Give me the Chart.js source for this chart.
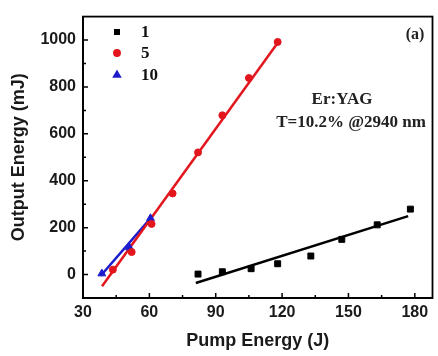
<!DOCTYPE html>
<html>
<head>
<meta charset="utf-8">
<script src="https://cdn.jsdelivr.net/npm/chart.js@4.4.1/dist/chart.umd.min.js"></script>
<style>
html,body{margin:0;padding:0;background:#fff;}
canvas{display:block;}
</style>
</head>
<body>
<canvas id="c" width="438" height="356"></canvas>
<script>
// ---- data ----
const seriesNames = ["1", "5", "10"];
const pump1 = [82, 93, 106, 118, 133, 147, 163, 178];
const out1  = [2, 12, 25, 46, 79, 150, 212, 279];
const fitX1 = [81, 177];
const fitY1 = [-36, 249];

const pump5 = [43.5, 52, 61, 70.5, 82, 93, 105, 118];
const out5  = [21, 96, 216, 346, 521, 679, 838, 992];
const fitX5 = [38.6, 118.3];
const fitY5 = [-50, 992];

const pump10 = [38.5, 51, 60.5];
const out10  = [4, 115, 240];
const fitX10 = [38, 61];
const fitY10 = [-5, 245];

const xTicks = [30, 60, 90, 120, 150, 180];
const yTicks = [0, 200, 400, 600, 800, 1000];
const xMinor = [45, 75, 105, 135, 165];
const yMinor = [100, 300, 500, 700, 900];
const xTitle = "Pump Energy (J)";
const yTitle = "Output Energy (mJ)";
const noteLines = ["Er:YAG", "T=10.2% @2940 nm"];
const panelLabel = "(a)";

const colors = ["#000000", "#e3161e", "#1c1ccc"];
const styles = ["rect", "circle", "triangle"];

function pts(xs, ys){ return xs.map((x,i)=>({x:x, y:ys[i]})); }

const SANS = "'Liberation Sans', Arial, sans-serif";
const SERIF = "'Liberation Serif', 'Times New Roman', serif";

const frameAndTicks = {
  id: 'frameAndTicks',
  afterDraw(chart){
    const ctx = chart.ctx, a = chart.chartArea;
    const xs = chart.scales.x, ys = chart.scales.y;
    ctx.save();
    ctx.strokeStyle = '#000';
    ctx.lineWidth = 1.8;
    ctx.strokeRect(a.left, a.top, a.right - a.left, a.bottom - a.top);
    ctx.lineWidth = 1.5;
    ctx.beginPath();
    xTicks.forEach(v=>{ const p = xs.getPixelForValue(v); ctx.moveTo(p, a.bottom); ctx.lineTo(p, a.bottom-5); });
    xMinor.forEach(v=>{ const p = xs.getPixelForValue(v); ctx.moveTo(p, a.bottom); ctx.lineTo(p, a.bottom-3); });
    yTicks.forEach(v=>{ const p = ys.getPixelForValue(v); ctx.moveTo(a.left, p); ctx.lineTo(a.left+5, p); });
    yMinor.forEach(v=>{ const p = ys.getPixelForValue(v); ctx.moveTo(a.left, p); ctx.lineTo(a.left+3, p); });
    ctx.stroke();

    // legend
    const lx = 117, ly = [32, 53, 75];
    for (let i=0;i<3;i++){
      ctx.fillStyle = colors[i];
      ctx.strokeStyle = colors[i];
      const r = i===2?4:3.2;
      Chart.helpers.drawPoint(ctx, {pointStyle: styles[i], radius: r, rotation:0, borderWidth:1}, lx, ly[i]);
      ctx.fillStyle = '#111';
      ctx.font = "bold 17px " + SERIF;
      ctx.textAlign = 'left';
      ctx.textBaseline = 'middle';
      ctx.fillText(seriesNames[i], 141, ly[i]+1);
    }
    // annotations
    ctx.fillStyle = '#222';
    ctx.font = "bold 17px " + SERIF;
    ctx.textAlign = 'center';
    ctx.fillText(noteLines[0], 342, 100);
    ctx.fillText(noteLines[1], 351, 123);
    ctx.font = "bold 16px " + SERIF;
    ctx.fillText(panelLabel, 415, 35);
    ctx.restore();
  }
};

const ds = [];
const pumps = [pump1, pump5, pump10], outs = [out1, out5, out10];
const fx = [fitX1, fitX5, fitX10], fy = [fitY1, fitY5, fitY10];
for (let i=0;i<3;i++){
  ds.push({
    label: seriesNames[i] + ' fit',
    data: pts(fx[i], fy[i]),
    showLine: true,
    borderColor: colors[i],
    borderWidth: 2.5,
    pointRadius: 0,
    order: 2
  });
}
for (let i=0;i<3;i++){
  ds.push({
    label: seriesNames[i],
    data: pts(pumps[i], outs[i]),
    showLine: false,
    pointStyle: styles[i],
    pointRadius: i===0?4.2:(i===2?4.5:3.5),
    backgroundColor: colors[i],
    borderColor: colors[i],
    borderWidth: 1,
    order: 1
  });
}

new Chart(document.getElementById('c'), {
  type: 'scatter',
  data: { datasets: ds },
  options: {
    responsive: false,
    animation: false,
    devicePixelRatio: 1,
    layout: { padding: { left: 0, right: 4, top: 10, bottom: 0 } },
    plugins: { legend: { display: false }, tooltip: { enabled: false } },
    scales: {
      x: {
        type: 'linear', min: 30, max: 188,
        afterBuildTicks: s => { s.ticks = xTicks.map(v=>({value:v})); },
        afterFit: s => { s.height = 58; },
        grid: { display: false, drawTicks: false },
        border: { display: true, color: '#000', width: 1.8 },
        ticks: { color: '#1a1a1a', padding: 5, font: { family: SANS, size: 16, weight: 'bold' }, maxRotation: 0,
                 callback: v => String(v) },
        title: { display: true, text: xTitle, color: '#1a1a1a', font: { family: SANS, size: 18, weight: 'bold' }, padding: { top: 4, bottom: 4 } }
      },
      y: {
        type: 'linear', min: -100, max: 1100,
        afterBuildTicks: s => { s.ticks = yTicks.map(v=>({value:v})); },
        afterFit: s => { s.width = 83; },
        grid: { display: false, drawTicks: false },
        border: { display: true, color: '#000', width: 1.8 },
        ticks: { color: '#1a1a1a', padding: 7, font: { family: SANS, size: 16, weight: 'bold' },
                 callback: v => String(v) },
        title: { display: true, text: yTitle, color: '#1a1a1a', font: { family: SANS, size: 18, weight: 'bold' }, padding: { top: 8, bottom: 4 } }
      }
    }
  },
  plugins: [frameAndTicks]
});
</script>
</body>
</html>
